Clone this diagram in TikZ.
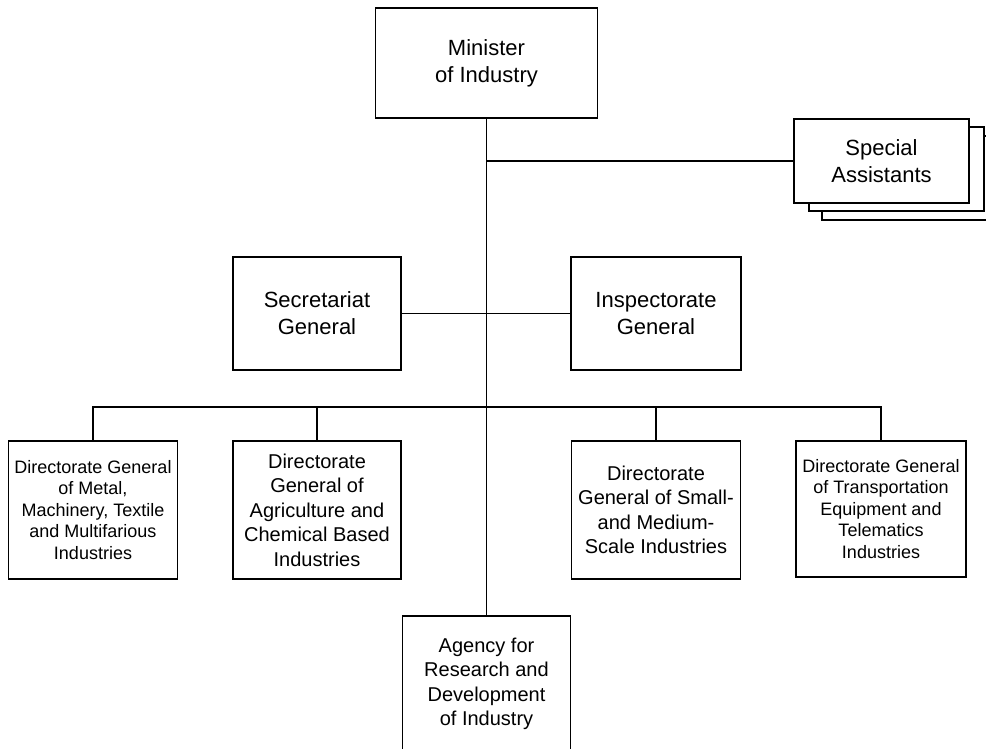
\documentclass[tikz,border=0pt]{standalone}
\usepackage{fontspec}
\setmainfont{Liberation Sans}
\begin{document}
\begin{tikzpicture}[x=1pt,y=-1pt,
  unit/.style={draw, line width=1.6pt, fill=white, align=center, inner sep=0pt},
  big/.style={font=\fontsize{22}{27}\selectfont},
  mid/.style={font=\fontsize{20}{24.5}\selectfont},
  small/.style={font=\fontsize{18}{21.5}\selectfont},
  link/.style={line width=1.6pt}]
\useasboundingbox[fill=white] (0,0) rectangle (986,749);

% top of the hierarchy
\node[unit, big, minimum width=222pt, minimum height=110pt] (min) at (486.5,63) {Minister\\of Industry};

% stacked staff box
\node[unit, minimum width=175pt, minimum height=84pt] (sa3) at (909.5,178) {};
\node[unit, minimum width=175pt, minimum height=84pt] (sa2) at (896.5,169) {};
\node[unit, big, minimum width=175pt, minimum height=84pt] (sa) at (881.5,161) {Special\\Assistants};

% second level
\node[unit, big, minimum width=168pt, minimum height=113pt] (sec) at (317,313.5) {Secretariat\\General};
\node[unit, big, minimum width=170pt, minimum height=113pt] (insp) at (656,313.5) {Inspectorate\\General};

% directorates general
\node[unit, small, minimum width=169pt, minimum height=138pt] (d1) at (93,510) {Directorate General\\of Metal,\\Machinery, Textile\\and Multifarious\\Industries};
\node[unit, mid, minimum width=168pt, minimum height=138pt] (d2) at (317,510) {Directorate\\General of\\Agriculture and\\Chemical Based\\Industries};
\node[unit, mid, minimum width=169pt, minimum height=138pt] (d3) at (656,510) {Directorate\\General of Small-\\and Medium-\\Scale Industries};
\node[unit, small, minimum width=170pt, minimum height=136pt] (d4) at (881,509) {Directorate General\\of Transportation\\Equipment and\\Telematics\\Industries};

% research agency
\node[unit, mid, minimum width=168pt, minimum height=136pt] (ag) at (486.5,684) {Agency for\\Research and\\Development\\of Industry};

% connectors
\coordinate (bus) at (486.5,407);
\draw[link] (min.south) -- (ag.north);
\draw[link] (sa.west) -- (sa.west -| min.south);
\draw[link] (sec.east) -- (insp.west);
\draw[link] (d1.north) |- (bus) -| (d4.north);
\draw[link] (d2.north) -- (d2.north |- bus);
\draw[link] (d3.north) -- (d3.north |- bus);
\end{tikzpicture}
\end{document}
